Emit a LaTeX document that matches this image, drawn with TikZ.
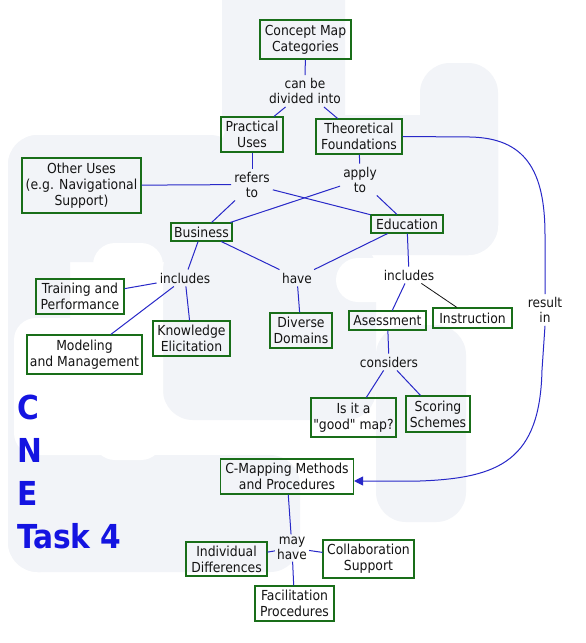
\documentclass[tikz,border=0pt]{standalone}
\usepackage{fontspec}
\setmainfont{DejaVu Sans Condensed}[Ligatures=TeXOff]
\newfontfamily\cnefont{DejaVu Sans Condensed}
\usetikzlibrary{arrows.meta}
\definecolor{boxgreen}{RGB}{25,110,25}
\definecolor{linkblue}{RGB}{40,40,200}
\definecolor{cneblue}{RGB}{20,20,225}
\definecolor{txt}{RGB}{20,20,20}
\definecolor{wm}{RGB}{242,244,248}
\tikzset{
  concept/.style={draw=boxgreen, line width=1.1pt, align=center, inner sep=0pt,
    text=txt, font=\fontsize{13.8}{16}\selectfont},
  linklabel/.style={align=center, inner sep=3pt, text=txt, font=\fontsize{13.5}{15}\selectfont},
  link/.style={draw=linkblue, line width=1pt},
  blacklink/.style={draw=txt, line width=0.8pt},
  cne/.style={text=cneblue, inner sep=0pt, anchor=base west, font=\cnefont\bfseries\fontsize{33}{40}\selectfont},
  wmark/.style={fill=wm, draw=none, rounded corners=30pt},
  wmhole/.style={fill=white, draw=none, rounded corners=22pt},
}
\begin{document}
\begin{tikzpicture}[x=1pt,y=-1pt]
\useasboundingbox (0,0) rectangle (586,643);
\fill[white] (0,0) rectangle (586,643);
% faint background watermark
\begin{scope}
\clip (0,0) rectangle (586,643);
\fill[wmark] (222,-40) rectangle (345,150);
\fill[wmark] (222,115) rectangle (498,255);
\fill[wmark] (420,63) rectangle (498,255);
\fill[wmark] (8,135) rectangle (240,262);
\fill[wmark] (8,135) rectangle (70,572);
\fill[wmark] (8,455) rectangle (300,572);
\fill[wmark] (163,240) rectangle (376,420);
\fill[wmark] (376,325) rectangle (466,522);
\fill[wmhole] (336,258) rectangle (420,302);
\fill[wmhole] (93,243) rectangle (163,460);
\fill[wmhole] (14,318) rectangle (163,455);
\end{scope}

% concepts
\node[concept, minimum width=91pt, minimum height=39pt] (cmc) at (305.5,39.5) {Concept Map\\Categories};
\node[concept, minimum width=62pt, minimum height=35pt] (pu) at (252,134.5) {Practical\\Uses};
\node[concept, minimum width=86pt, minimum height=35pt] (tf) at (359,136.5) {Theoretical\\Foundations};
\node[concept, minimum width=119pt, minimum height=55pt] (ou) at (81.5,185.5) {Other Uses\\(e.g. Navigational\\Support)};
\node[concept, minimum width=61pt, minimum height=18pt] (bus) at (201.5,232) {Business};
\node[concept, minimum width=72pt, minimum height=18pt] (edu) at (407,224) {Education};
\node[concept, minimum width=88pt, minimum height=35pt] (tp) at (80,296.5) {Training and\\Performance};
\node[concept, minimum width=115pt, minimum height=39pt] (mm) at (84.5,354.5) {Modeling\\and Management};
\node[concept, minimum width=77pt, minimum height=35pt] (ke) at (191.5,338.5) {Knowledge\\Elicitation};
\node[concept, minimum width=62pt, minimum height=35pt] (dd) at (301,330.5) {Diverse\\Domains};
\node[concept, minimum width=77pt, minimum height=19pt] (ase) at (387.5,320.5) {Asessment};
\node[concept, minimum width=79pt, minimum height=20pt] (ins) at (472.5,318) {Instruction};
\node[concept, minimum width=85pt, minimum height=39pt] (good) at (353.5,417.5) {Is it a\\"good" map?};
\node[concept, minimum width=64pt, minimum height=36pt] (ss) at (438,414) {Scoring\\Schemes};
\node[concept, minimum width=133pt, minimum height=35pt] (cmm) at (287,476.5) {C-Mapping Methods\\and Procedures};
\node[concept, minimum width=81pt, minimum height=34pt] (id) at (226.5,559) {Individual\\Differences};
\node[concept, minimum width=91pt, minimum height=38pt] (cs) at (368.5,559) {Collaboration\\Support};
\node[concept, minimum width=79pt, minimum height=35pt] (fp) at (294.5,603.5) {Facilitation\\Procedures};

% linking phrases
\node[linklabel] (cbd) at (305,91) {can be\\divided into};
\node[linklabel] (rt) at (252,184.5) {refers\\to};
\node[linklabel] (at) at (360,179.5) {apply\\to};
\node[linklabel] (binc) at (185,278) {includes};
\node[linklabel] (hv) at (297,278) {have};
\node[linklabel] (einc) at (409,275) {includes};
\node[linklabel] (cons) at (389,362) {considers};
\node[linklabel] (rin) at (545,310) {result\\in};
\node[linklabel, inner sep=2pt] (mh) at (292,548) {may\\have};

% CNE title
\node[cne] (cneC) at (17,419) {C};
\node[cne] (cneN) at (17,462) {N};
\node[cne] (cneE) at (17,505) {E};
\node[cne] (cneT) at (17,548) {Task 4};

% connectors
\draw[link] (cmc) -- (cbd);
\draw[link] (cbd) -- (pu);
\draw[link] (cbd) -- (tf);
\draw[link] (pu) -- (rt);
\draw[link] (rt) -- (ou);
\draw[link] (rt) -- (bus);
\draw[link] (rt) -- (edu);
\draw[link] (tf) -- (at);
\draw[link] (at) -- (bus);
\draw[link] (at) -- (edu);
\draw[link] (bus) -- (binc);
\draw[link] (binc) -- (tp);
\draw[link] (binc) -- (mm);
\draw[link] (binc) -- (ke);
\draw[link] (bus) -- (hv);
\draw[link] (edu) -- (hv);
\draw[link] (hv) -- (dd);
\draw[link] (edu) -- (einc);
\draw[link] (einc) -- (ase);
\draw[blacklink] (einc) -- (ins);
\draw[link] (ase) -- (cons);
\draw[link] (cons) -- (good);
\draw[link] (cons) -- (ss);
\draw[link] (tf.east) -- (470,137) .. controls (525,138) and (545,170) .. (545,235) -- (rin.north);
\draw[link, -{Triangle[length=9pt,width=9pt]}] (rin.south) -- (542,370) .. controls (540,460) and (500,478) .. (420,481) -- ([yshift=-4.5pt]cmm.east);
\draw[link] (cmm) -- (mh);
\draw[link] (mh) -- (id);
\draw[link] (mh) -- (cs);
\draw[link] (mh) -- (fp);
\end{tikzpicture}
\end{document}
